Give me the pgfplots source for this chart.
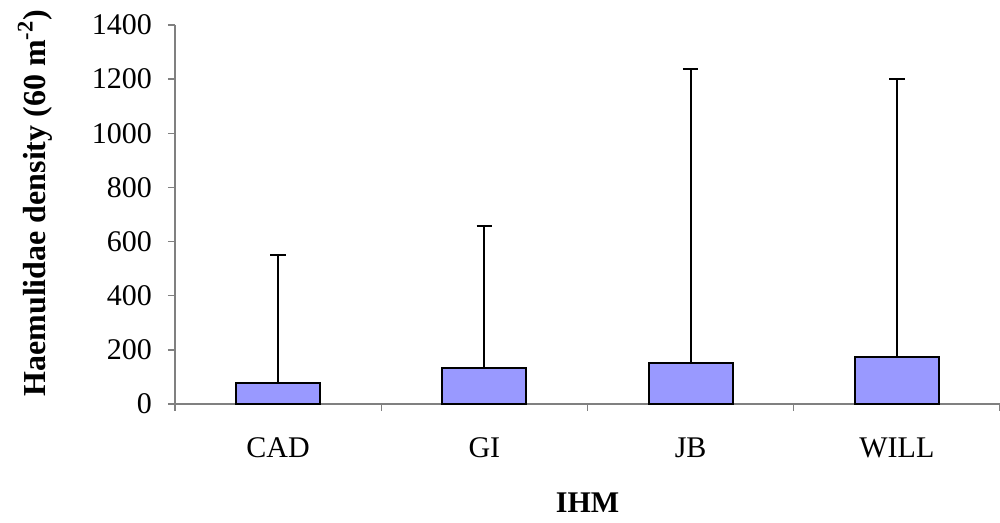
\documentclass[border=0pt]{standalone}
\usepackage{pgfplots}
\pgfplotsset{compat=1.18}
\usepackage{fontspec}
\setmainfont{Liberation Serif}
\definecolor{barfill}{HTML}{9999FF}
\definecolor{axgray}{HTML}{808080}
\begin{document}
\begin{tikzpicture}
\useasboundingbox (-87.5pt,-59.5pt) rectangle (412.5pt,202pt);
\begin{axis}[
  name=ax, at={(0,0)}, anchor=south west,
  scale only axis, width=412.5pt, height=189.5pt,
  xmin=-0.5, xmax=3.5, ymin=0, ymax=1400,
  axis x line*=bottom, axis y line*=left,
  axis line style={draw=axgray, line width=0.7pt},
  xtick={-0.5,0.5,1.5,2.5,3.5}, x tick label as interval,
  xticklabels={CAD,GI,JB,WILL},
  ytick={0,200,400,600,800,1000,1200,1400},
  tick align=outside, major tick length=3.5pt,
  tick style={draw=axgray, line width=0.7pt},
  /pgf/number format/assume math mode=true,
  /pgf/number format/1000 sep={},
  ticklabel style={font=\fontsize{15}{18}\selectfont},
  xticklabel style={yshift=-10pt},
  yticklabel style={xshift=-4.5pt},
  xlabel={\textbf{IHM}}, ylabel={\textbf{Haemulidae density (60 m\textsuperscript{-2})}},
  xlabel style={font=\fontsize{15}{18}\selectfont, at={(axis description cs:0.5,-0.2612)}, anchor=center},
  ylabel style={font=\fontsize{16}{19}\selectfont, at={(axis description cs:-0.1697,0.53)}, anchor=center},
  clip=false,
]
\addplot[ybar, bar width=42pt, fill=barfill, draw=black, line width=1pt]
  coordinates {(0,76.5) (1,133) (2,152.6) (3,173.6)};
\addplot[draw=none, mark=none, forget plot,
  error bars/.cd, y dir=plus, y explicit, error mark=|,
  error bar style={line width=1pt, black},
  error mark options={mark size=3.9pt, line width=1pt, black}]
  coordinates {
  (0,76.5) +- (0,475.5)
  (1,133) +- (0,524)
  (2,152.6) +- (0,1084.4)
  (3,173.6) +- (0,1025.4)
};
\end{axis}
\end{tikzpicture}
\end{document}
